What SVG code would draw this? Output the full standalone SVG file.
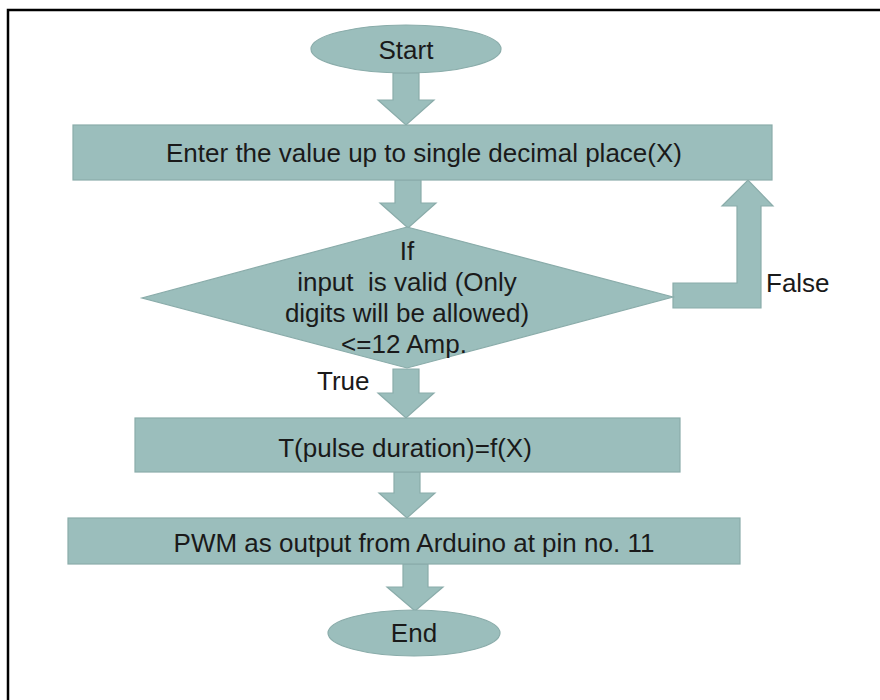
<svg xmlns="http://www.w3.org/2000/svg" width="880" height="700" viewBox="0 0 880 700">
<style>
.sh{fill:#9BBEBC;stroke:#8AACAA;stroke-width:1.2}
.t{font-family:"Liberation Sans",Arial,sans-serif;font-size:26px;fill:#1a1a1a;white-space:pre}
.c{text-anchor:middle}
</style>
<rect width="880" height="700" fill="#ffffff"/>
<path d="M8,710 V10 H890" fill="none" stroke="#000" stroke-width="2.5"/>
<g id="connectors">
<polygon class="sh" points="393,73 419,73 419,100 434,100 406,125 378,100 393,100"/>
<polygon class="sh" points="395,180 421,180 421,203 436,203 408,228 380,203 395,203"/>
<polygon class="sh" points="673,283 737,283 737,206 722,206 748,180 773,206 761,206 761,308 673,308"/>
<polygon class="sh" points="393,369 419,369 419,393 434,393 406,418 378,393 393,393"/>
<polygon class="sh" points="394,472 420,472 420,493 435,493 407,518 379,493 394,493"/>
<polygon class="sh" points="403,564 428,564 428,587 443,587 415,611 387,587 403,587"/>
<text class="t" x="766" y="292">False</text>
<text class="t" x="317" y="390">True</text>
</g>
<g id="start">
<ellipse class="sh" cx="406" cy="49" rx="95" ry="24"/>
<text class="t c" x="406" y="59">Start</text>
</g>
<g id="enter">
<rect class="sh" x="73" y="125" width="699" height="55"/>
<text class="t c" x="424" y="162">Enter the value up to single decimal place(X)</text>
</g>
<g id="decision">
<polygon class="sh" points="407,227 673,297 407,368 142,298"/>
<text class="t c" x="407" y="260">If</text>
<text class="t c" x="407" y="291">input  is valid (Only</text>
<text class="t c" x="407" y="322">digits will be allowed)</text>
<text class="t c" x="404" y="353">&lt;=12 Amp.</text>
</g>
<g id="pulse">
<rect class="sh" x="135" y="418" width="545" height="54"/>
<text class="t c" x="405" y="457">T(pulse duration)=f(X)</text>
</g>
<g id="pwm">
<rect class="sh" x="68" y="518" width="672" height="46"/>
<text class="t c" x="414" y="552">PWM as output from Arduino at pin no. 11</text>
</g>
<g id="end">
<ellipse class="sh" cx="414" cy="633" rx="86" ry="23"/>
<text class="t c" x="414" y="642">End</text>
</g>
</svg>
